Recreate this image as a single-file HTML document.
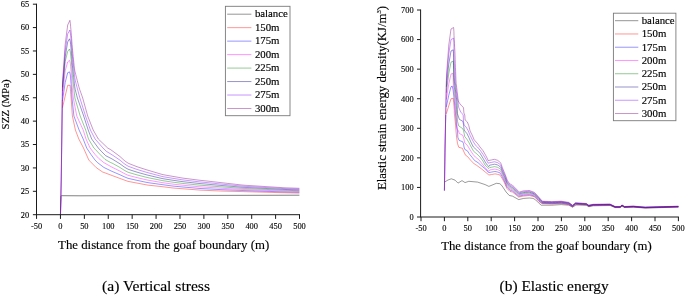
<!DOCTYPE html>
<html><head><meta charset="utf-8"><title>Figure</title>
<style>
html,body{margin:0;padding:0;background:#fff;}
body{width:685px;height:295px;position:relative;overflow:hidden;font-family:"Liberation Serif",serif;}
</style></head><body>
<svg width="685" height="295" viewBox="0 0 685 295" style="position:absolute;left:0;top:0;will-change:transform">
<g fill="none" stroke-width="0.42" stroke-linejoin="round">
<path d="M60.45,214.70 L61.00,196.20 L61.40,195.70 L80.00,195.80 L120.00,195.65 L200.00,195.45 L299.40,195.20" stroke="#000000" stroke-width="0.5"/>
<path d="M62.50,107.60 L65.20,96.00 L67.70,85.30 L70.10,85.30 L70.35,88.30 L70.55,91.30 L70.79,94.30 L71.10,98.00 L72.40,116.00 L75.40,130.00 L78.80,139.00 L83.50,148.00 L88.80,160.00 L90.00,161.30 L96.30,167.70 L102.60,172.00 L105.10,172.90 L112.00,175.50 L114.00,176.24 L116.00,176.98 L118.00,177.72 L120.00,178.46 L122.00,179.19 L124.00,179.93 L126.00,180.67 L128.00,181.36 L130.00,181.74 L132.00,182.12 L134.00,182.50 L136.00,182.88 L138.00,183.26 L140.00,183.64 L142.00,184.02 L144.00,184.40 L146.00,184.78 L148.00,185.13 L150.00,185.35 L152.00,185.56 L154.00,185.78 L156.00,185.99 L158.00,186.21 L160.00,186.42 L162.00,186.64 L164.00,186.88 L166.00,187.13 L168.00,187.39 L170.00,187.64 L172.00,187.90 L174.00,188.09 L176.00,188.25 L178.00,188.40 L180.00,188.56 L182.00,188.71 L184.00,188.86 L186.00,189.02 L188.00,189.17 L190.00,189.33 L192.00,189.48 L194.00,189.64 L196.00,189.79 L198.00,189.95 L200.00,190.10 L202.00,190.19 L204.00,190.28 L206.00,190.36 L208.00,190.45 L210.00,190.54 L212.00,190.63 L214.00,190.72 L216.00,190.81 L218.00,190.89 L220.00,190.98 L222.00,191.04 L224.00,191.10 L226.00,191.15 L228.00,191.21 L230.00,191.26 L232.00,191.31 L234.00,191.37 L236.00,191.42 L238.00,191.48 L240.00,191.53 L242.00,191.58 L244.00,191.64 L246.00,191.70 L248.00,191.75 L250.00,191.81 L252.00,191.87 L254.00,191.92 L256.00,191.98 L258.00,192.04 L260.00,192.09 L262.00,192.15 L264.00,192.21 L266.00,192.26 L268.00,192.32 L270.00,192.38 L272.00,192.43 L274.00,192.49 L276.00,192.55 L278.00,192.60 L280.00,192.66 L282.00,192.72 L284.00,192.77 L286.00,192.82 L288.00,192.86 L290.00,192.90 L292.00,192.94 L294.00,192.99 L296.00,193.03 L298.00,193.07 L299.40,193.10" stroke="#ff0000"/>
<path d="M62.50,100.77 L65.20,82.40 L67.70,72.68 L69.60,71.90 L70.31,74.90 L70.57,77.90 L70.83,80.90 L71.09,83.90 L71.31,86.90 L71.50,89.90 L71.68,92.90 L71.87,95.90 L72.00,98.00 L73.90,116.00 L79.10,130.00 L83.20,139.00 L86.70,148.00 L91.00,154.50 L95.00,160.00 L97.50,162.60 L104.00,167.50 L112.00,171.36 L114.00,172.21 L116.00,173.08 L118.00,173.94 L120.00,174.80 L122.00,175.72 L124.00,176.65 L126.00,177.52 L128.00,178.31 L130.00,178.78 L132.00,179.22 L134.00,179.67 L136.00,180.12 L138.00,180.55 L140.00,180.98 L142.00,181.40 L144.00,181.83 L146.00,182.25 L148.00,182.65 L150.00,182.93 L152.00,183.21 L154.00,183.48 L156.00,183.76 L158.00,184.04 L160.00,184.32 L162.00,184.60 L164.00,184.87 L166.00,185.14 L168.00,185.41 L170.00,185.68 L172.00,185.95 L174.00,186.17 L176.00,186.36 L178.00,186.55 L180.00,186.73 L182.00,186.92 L184.00,187.10 L186.00,187.27 L188.00,187.44 L190.00,187.61 L192.00,187.78 L194.00,187.95 L196.00,188.12 L198.00,188.30 L200.00,188.47 L202.00,188.57 L204.00,188.68 L206.00,188.79 L208.00,188.90 L210.00,189.01 L212.00,189.12 L214.00,189.24 L216.00,189.35 L218.00,189.46 L220.00,189.57 L222.00,189.66 L224.00,189.74 L226.00,189.83 L228.00,189.91 L230.00,189.99 L232.00,190.08 L234.00,190.16 L236.00,190.24 L238.00,190.33 L240.00,190.41 L242.00,190.49 L244.00,190.56 L246.00,190.63 L248.00,190.70 L250.00,190.77 L252.00,190.84 L254.00,190.91 L256.00,190.97 L258.00,191.04 L260.00,191.11 L262.00,191.18 L264.00,191.25 L266.00,191.32 L268.00,191.39 L270.00,191.45 L272.00,191.52 L274.00,191.59 L276.00,191.66 L278.00,191.73 L280.00,191.80 L282.00,191.86 L284.00,191.93 L286.00,191.99 L288.00,192.04 L290.00,192.08 L292.00,192.13 L294.00,192.17 L296.00,192.22 L298.00,192.27 L299.40,192.30" stroke="#0000ff"/>
<path d="M62.50,95.73 L65.20,70.80 L67.70,61.87 L69.50,60.30 L70.33,63.30 L70.60,66.30 L70.88,69.30 L71.16,72.30 L71.40,75.30 L71.61,78.30 L71.81,81.30 L72.01,84.30 L72.23,87.30 L72.53,90.30 L72.83,93.30 L73.13,96.30 L73.30,98.00 L76.75,116.00 L83.20,130.00 L86.00,139.00 L90.10,148.00 L95.00,154.40 L98.80,158.50 L103.80,162.60 L112.00,167.21 L114.00,168.18 L116.00,169.17 L118.00,170.16 L120.00,171.15 L122.00,172.26 L124.00,173.37 L126.00,174.36 L128.00,175.27 L130.00,175.81 L132.00,176.33 L134.00,176.84 L136.00,177.36 L138.00,177.85 L140.00,178.32 L142.00,178.79 L144.00,179.26 L146.00,179.73 L148.00,180.16 L150.00,180.51 L152.00,180.85 L154.00,181.19 L156.00,181.54 L158.00,181.88 L160.00,182.22 L162.00,182.56 L164.00,182.87 L166.00,183.15 L168.00,183.44 L170.00,183.72 L172.00,184.01 L174.00,184.26 L176.00,184.48 L178.00,184.69 L180.00,184.91 L182.00,185.13 L184.00,185.33 L186.00,185.52 L188.00,185.71 L190.00,185.89 L192.00,186.08 L194.00,186.27 L196.00,186.46 L198.00,186.65 L200.00,186.83 L202.00,186.96 L204.00,187.08 L206.00,187.21 L208.00,187.35 L210.00,187.48 L212.00,187.62 L214.00,187.75 L216.00,187.89 L218.00,188.02 L220.00,188.16 L222.00,188.28 L224.00,188.39 L226.00,188.50 L228.00,188.61 L230.00,188.73 L232.00,188.84 L234.00,188.95 L236.00,189.06 L238.00,189.18 L240.00,189.29 L242.00,189.40 L244.00,189.49 L246.00,189.57 L248.00,189.65 L250.00,189.73 L252.00,189.81 L254.00,189.89 L256.00,189.97 L258.00,190.05 L260.00,190.13 L262.00,190.21 L264.00,190.29 L266.00,190.37 L268.00,190.45 L270.00,190.53 L272.00,190.61 L274.00,190.69 L276.00,190.77 L278.00,190.85 L280.00,190.93 L282.00,191.01 L284.00,191.09 L286.00,191.16 L288.00,191.21 L290.00,191.26 L292.00,191.31 L294.00,191.36 L296.00,191.41 L298.00,191.46 L299.40,191.50" stroke="#ff00ff"/>
<path d="M62.50,91.00 L65.20,61.50 L67.70,51.35 L69.50,49.00 L70.35,52.00 L70.66,55.00 L70.96,58.00 L71.27,61.00 L71.54,64.00 L71.77,67.00 L72.00,70.00 L72.23,73.00 L72.47,76.00 L72.80,79.00 L73.13,82.00 L73.46,85.00 L73.79,88.00 L74.12,91.00 L74.45,94.00 L74.90,98.00 L80.20,116.00 L85.70,130.00 L88.50,139.00 L93.90,148.00 L95.00,149.10 L100.00,154.40 L105.00,159.40 L110.70,162.60 L112.00,163.07 L114.00,164.16 L116.00,165.27 L118.00,166.39 L120.00,167.50 L122.00,168.79 L124.00,170.09 L126.00,171.21 L128.00,172.23 L130.00,172.85 L132.00,173.43 L134.00,174.02 L136.00,174.60 L138.00,175.15 L140.00,175.66 L142.00,176.18 L144.00,176.69 L146.00,177.20 L148.00,177.68 L150.00,178.09 L152.00,178.49 L154.00,178.90 L156.00,179.31 L158.00,179.71 L160.00,180.12 L162.00,180.53 L164.00,180.86 L166.00,181.16 L168.00,181.46 L170.00,181.77 L172.00,182.07 L174.00,182.34 L176.00,182.59 L178.00,182.84 L180.00,183.09 L182.00,183.34 L184.00,183.57 L186.00,183.77 L188.00,183.97 L190.00,184.18 L192.00,184.38 L194.00,184.59 L196.00,184.79 L198.00,185.00 L200.00,185.20 L202.00,185.34 L204.00,185.49 L206.00,185.64 L208.00,185.80 L210.00,185.96 L212.00,186.11 L214.00,186.27 L216.00,186.43 L218.00,186.59 L220.00,186.75 L222.00,186.89 L224.00,187.04 L226.00,187.18 L228.00,187.32 L230.00,187.46 L232.00,187.60 L234.00,187.74 L236.00,187.88 L238.00,188.02 L240.00,188.17 L242.00,188.31 L244.00,188.41 L246.00,188.51 L248.00,188.60 L250.00,188.69 L252.00,188.78 L254.00,188.87 L256.00,188.97 L258.00,189.06 L260.00,189.15 L262.00,189.24 L264.00,189.33 L266.00,189.43 L268.00,189.52 L270.00,189.61 L272.00,189.70 L274.00,189.79 L276.00,189.89 L278.00,189.98 L280.00,190.07 L282.00,190.16 L284.00,190.25 L286.00,190.33 L288.00,190.38 L290.00,190.44 L292.00,190.49 L294.00,190.55 L296.00,190.60 L298.00,190.66 L299.40,190.70" stroke="#008000"/>
<path d="M62.50,87.37 L65.20,56.80 L67.70,41.93 L69.50,38.80 L70.35,41.80 L70.65,44.80 L70.96,47.80 L71.26,50.80 L71.53,53.80 L71.75,56.80 L71.98,59.80 L72.21,62.80 L72.45,65.80 L72.78,68.80 L73.10,71.80 L73.43,74.80 L73.75,77.80 L74.09,80.80 L74.42,83.80 L74.75,86.80 L75.28,89.80 L76.05,92.80 L76.83,95.80 L77.40,98.00 L83.70,116.00 L88.20,130.00 L91.70,139.00 L98.30,148.00 L101.30,151.30 L105.70,155.70 L112.00,158.92 L114.00,160.13 L116.00,161.37 L118.00,162.61 L120.00,163.85 L122.00,165.32 L124.00,166.80 L126.00,168.05 L128.00,169.18 L130.00,169.89 L132.00,170.54 L134.00,171.19 L136.00,171.84 L138.00,172.45 L140.00,173.01 L142.00,173.56 L144.00,174.12 L146.00,174.68 L148.00,175.20 L150.00,175.67 L152.00,176.14 L154.00,176.61 L156.00,177.08 L158.00,177.55 L160.00,178.02 L162.00,178.49 L164.00,178.86 L166.00,179.17 L168.00,179.49 L170.00,179.81 L172.00,180.12 L174.00,180.42 L176.00,180.70 L178.00,180.99 L180.00,181.27 L182.00,181.56 L184.00,181.80 L186.00,182.02 L188.00,182.24 L190.00,182.46 L192.00,182.68 L194.00,182.90 L196.00,183.12 L198.00,183.35 L200.00,183.57 L202.00,183.73 L204.00,183.89 L206.00,184.06 L208.00,184.25 L210.00,184.43 L212.00,184.61 L214.00,184.79 L216.00,184.97 L218.00,185.16 L220.00,185.34 L222.00,185.51 L224.00,185.68 L226.00,185.85 L228.00,186.02 L230.00,186.19 L232.00,186.36 L234.00,186.53 L236.00,186.70 L238.00,186.87 L240.00,187.05 L242.00,187.22 L244.00,187.34 L246.00,187.44 L248.00,187.55 L250.00,187.65 L252.00,187.75 L254.00,187.86 L256.00,187.96 L258.00,188.07 L260.00,188.17 L262.00,188.27 L264.00,188.38 L266.00,188.48 L268.00,188.58 L270.00,188.69 L272.00,188.79 L274.00,188.90 L276.00,189.00 L278.00,189.10 L280.00,189.21 L282.00,189.31 L284.00,189.41 L286.00,189.50 L288.00,189.56 L290.00,189.62 L292.00,189.68 L294.00,189.74 L296.00,189.80 L298.00,189.86 L299.40,189.90" stroke="#000080"/>
<path d="M60.45,214.70 L61.20,180.00 L61.90,130.00 L62.50,85.13 L65.20,51.00 L67.70,33.92 L69.90,30.00 L70.36,33.00 L70.67,36.00 L70.98,39.00 L71.28,42.00 L71.56,45.00 L71.79,48.00 L72.03,51.00 L72.26,54.00 L72.51,57.00 L72.84,60.00 L73.17,63.00 L73.50,66.00 L73.84,69.00 L74.17,72.00 L74.51,75.00 L74.85,78.00 L75.38,81.00 L76.16,84.00 L76.95,87.00 L77.73,90.00 L78.53,93.00 L79.33,96.00 L79.90,98.00 L85.50,116.00 L90.40,130.00 L95.10,139.00 L103.00,148.00 L106.30,151.30 L112.00,154.78 L114.00,156.10 L116.00,157.47 L118.00,158.84 L120.00,160.20 L122.00,161.85 L124.00,163.52 L126.00,164.90 L128.00,166.14 L130.00,166.93 L132.00,167.64 L134.00,168.36 L136.00,169.08 L138.00,169.74 L140.00,170.35 L142.00,170.95 L144.00,171.55 L146.00,172.15 L148.00,172.71 L150.00,173.25 L152.00,173.78 L154.00,174.32 L156.00,174.85 L158.00,175.39 L160.00,175.92 L162.00,176.46 L164.00,176.85 L166.00,177.18 L168.00,177.51 L170.00,177.85 L172.00,178.18 L174.00,178.50 L176.00,178.82 L178.00,179.13 L180.00,179.45 L182.00,179.77 L184.00,180.03 L186.00,180.27 L188.00,180.51 L190.00,180.74 L192.00,180.98 L194.00,181.22 L196.00,181.46 L198.00,181.70 L200.00,181.93 L202.00,182.11 L204.00,182.30 L206.00,182.49 L208.00,182.69 L210.00,182.90 L212.00,183.11 L214.00,183.31 L216.00,183.52 L218.00,183.72 L220.00,183.93 L222.00,184.13 L224.00,184.33 L226.00,184.53 L228.00,184.73 L230.00,184.93 L232.00,185.13 L234.00,185.33 L236.00,185.52 L238.00,185.72 L240.00,185.92 L242.00,186.12 L244.00,186.26 L246.00,186.38 L248.00,186.50 L250.00,186.61 L252.00,186.73 L254.00,186.84 L256.00,186.96 L258.00,187.07 L260.00,187.19 L262.00,187.30 L264.00,187.42 L266.00,187.54 L268.00,187.65 L270.00,187.77 L272.00,187.88 L274.00,188.00 L276.00,188.11 L278.00,188.23 L280.00,188.34 L282.00,188.46 L284.00,188.58 L286.00,188.67 L288.00,188.73 L290.00,188.79 L292.00,188.86 L294.00,188.92 L296.00,188.99 L298.00,189.05 L299.40,189.10" stroke="#8000ff"/>
<path d="M60.45,214.70 L61.20,180.00 L61.90,130.00 L62.50,82.00 L65.20,44.30 L67.70,25.00 L69.90,20.30 L70.33,23.30 L70.61,26.30 L70.89,29.30 L71.18,32.30 L71.42,35.30 L71.63,38.30 L71.84,41.30 L72.05,44.30 L72.27,47.30 L72.57,50.30 L72.88,53.30 L73.18,56.30 L73.48,59.30 L73.79,62.30 L74.11,65.30 L74.42,68.30 L74.92,71.30 L75.68,74.30 L76.44,77.30 L77.19,80.30 L77.96,83.30 L78.74,86.30 L79.64,89.30 L80.69,92.30 L81.75,95.30 L82.70,98.00 L87.70,116.00 L93.20,130.00 L98.30,139.00 L107.70,148.00 L110.70,149.70 L112.00,150.63 L114.00,152.07 L116.00,153.57 L118.00,155.06 L120.00,156.55 L122.00,158.38 L124.00,160.24 L126.00,161.75 L128.00,163.10 L130.00,163.97 L132.00,164.75 L134.00,165.53 L136.00,166.32 L138.00,167.04 L140.00,167.69 L142.00,168.34 L144.00,168.98 L146.00,169.63 L148.00,170.23 L150.00,170.83 L152.00,171.43 L154.00,172.03 L156.00,172.62 L158.00,173.22 L160.00,173.82 L162.00,174.42 L164.00,174.84 L166.00,175.19 L168.00,175.54 L170.00,175.89 L172.00,176.24 L174.00,176.59 L176.00,176.93 L178.00,177.28 L180.00,177.63 L182.00,177.98 L184.00,178.27 L186.00,178.52 L188.00,178.77 L190.00,179.03 L192.00,179.28 L194.00,179.54 L196.00,179.79 L198.00,180.05 L200.00,180.30 L202.00,180.50 L204.00,180.70 L206.00,180.91 L208.00,181.14 L210.00,181.37 L212.00,181.60 L214.00,181.83 L216.00,182.06 L218.00,182.29 L220.00,182.52 L222.00,182.74 L224.00,182.97 L226.00,183.20 L228.00,183.43 L230.00,183.66 L232.00,183.89 L234.00,184.12 L236.00,184.35 L238.00,184.57 L240.00,184.80 L242.00,185.03 L244.00,185.19 L246.00,185.32 L248.00,185.44 L250.00,185.57 L252.00,185.70 L254.00,185.83 L256.00,185.95 L258.00,186.08 L260.00,186.21 L262.00,186.34 L264.00,186.46 L266.00,186.59 L268.00,186.72 L270.00,186.84 L272.00,186.97 L274.00,187.10 L276.00,187.23 L278.00,187.35 L280.00,187.48 L282.00,187.61 L284.00,187.74 L286.00,187.83 L288.00,187.90 L290.00,187.97 L292.00,188.04 L294.00,188.11 L296.00,188.18 L298.00,188.25 L299.40,188.30" stroke="#800080"/>
<path d="M444.50,182.10 L448.00,180.00 L451.30,178.80 L455.00,180.10 L458.00,183.10 L462.00,180.60 L465.00,182.60 L468.80,181.30 L477.60,182.10 L485.10,184.60 L488.90,186.40 L496.40,183.30 L499.80,183.70 L501.60,185.30 L503.00,187.30 L506.10,192.00 L509.30,195.50 L512.40,196.10 L518.70,199.60 L523.70,198.40 L529.40,198.00 L533.10,198.40 L535.50,199.80 L538.50,202.80 L541.20,205.20 L551.80,205.20 L561.20,204.60 L568.80,205.20 L572.50,207.20 L576.00,205.00 L586.30,205.30 L588.80,206.70 L593.20,205.80 L610.10,205.50 L615.10,207.60 L620.20,207.60 L622.00,206.10 L624.50,207.50 L633.30,207.20 L645.20,208.00 L655.00,207.80 L678.40,207.10" stroke="#000000" stroke-width="0.4"/>
<path d="M446.30,113.80 L448.70,106.00 L451.00,98.80 L453.20,98.20 L453.62,102.20 L454.03,106.20 L454.30,110.20 L454.30,113.00 L455.60,125.00 L456.00,131.00 L456.60,137.30 L457.50,143.60 L458.80,147.30 L462.40,148.30 L464.00,152.00 L465.50,155.20 L467.40,156.40 L470.60,160.20 L474.30,164.00 L476.20,165.00 L481.40,168.80 L485.00,171.80 L485.80,172.46 L488.10,174.34 L488.80,174.92 L488.90,175.00 L491.30,174.57 L491.80,174.48 L494.40,174.01 L494.80,173.94 L495.00,173.90 L496.00,174.00 L497.60,174.38 L497.80,174.43 L499.80,174.90 L500.70,176.27 L500.80,176.42 L502.30,178.70 L503.80,181.55 L504.30,182.50 L505.00,184.12 L506.80,188.30 L507.40,188.90 L509.70,191.20 L509.80,191.30 L509.90,191.40 L512.40,192.00 L512.80,192.32 L515.80,194.75 L518.70,197.10 L518.80,197.08 L519.30,196.96 L521.80,196.40 L523.10,196.10 L523.70,196.04 L524.80,195.94 L527.80,195.65 L529.40,195.50 L530.80,195.85 L533.80,196.60 L534.40,196.75 L536.80,199.20 L536.90,199.30 L538.20,200.72 L539.00,201.60 L539.80,202.13 L540.70,202.73 L542.00,203.60 L542.40,203.62 L542.80,203.63 L545.80,203.76 L548.80,203.88 L551.80,204.00 L554.80,203.84 L557.80,203.68 L560.80,203.52 L561.20,203.50 L563.80,203.88 L566.80,204.31 L568.80,204.60 L569.80,205.19 L572.50,206.80 L572.80,206.56 L575.60,204.30 L575.80,204.31 L578.80,204.45 L581.80,204.59 L584.80,204.73 L586.30,204.80 L587.80,205.70 L588.80,206.30 L590.80,205.89 L593.20,205.40 L593.80,205.39 L596.80,205.34 L599.80,205.28 L602.80,205.23 L605.80,205.18 L608.80,205.12 L610.10,205.10 L611.80,205.88 L614.80,207.26 L615.10,207.40 L617.80,207.40 L620.20,207.40 L620.80,206.87 L622.00,205.80 L623.80,206.88 L624.50,207.30 L626.80,207.22 L629.80,207.12 L632.80,207.02 L633.30,207.00 L635.80,207.19 L638.80,207.42 L641.80,207.64 L644.80,207.87 L645.20,207.90 L647.80,207.82 L650.80,207.73 L653.80,207.64 L655.00,207.60 L656.80,207.55 L659.80,207.48 L662.80,207.40 L665.80,207.32 L668.80,207.25 L671.80,207.17 L674.80,207.09 L677.80,207.02 L678.40,207.00" stroke="#ff0000"/>
<path d="M446.33,106.92 L448.72,95.42 L451.00,86.75 L452.20,86.00 L453.12,90.00 L453.55,94.00 L454.00,98.00 L454.45,102.00 L454.81,106.00 L455.16,110.00 L455.50,114.00 L455.85,118.00 L456.20,122.00 L456.54,126.00 L457.50,131.00 L457.85,137.30 L459.10,140.40 L462.60,141.70 L463.50,143.60 L464.00,147.00 L464.90,149.50 L467.40,150.80 L469.30,153.90 L472.40,157.70 L474.60,160.50 L478.10,162.70 L480.60,165.00 L484.50,168.30 L487.00,170.50 L487.80,171.85 L488.10,172.05 L488.90,172.58 L490.80,172.23 L491.30,172.14 L493.80,171.67 L494.40,171.56 L495.00,171.50 L496.00,171.63 L496.80,171.83 L497.60,172.03 L499.80,172.76 L500.70,174.02 L502.30,176.83 L502.80,177.83 L504.30,180.80 L505.00,182.44 L505.80,184.34 L506.80,186.73 L507.40,187.50 L508.80,189.00 L509.70,189.97 L509.90,190.15 L511.80,190.69 L512.40,190.87 L514.80,192.88 L517.80,195.40 L518.70,196.15 L519.30,196.14 L520.80,195.78 L523.10,195.24 L523.70,195.17 L523.80,195.16 L526.80,194.90 L529.40,194.67 L529.80,194.78 L532.80,195.59 L534.40,196.03 L535.80,197.46 L536.90,198.59 L538.20,200.00 L538.80,200.67 L539.00,200.89 L540.70,202.16 L541.80,202.98 L542.00,203.13 L542.40,203.21 L544.80,203.31 L547.80,203.44 L550.80,203.56 L551.80,203.60 L553.80,203.50 L556.80,203.34 L559.80,203.19 L561.20,203.12 L562.80,203.35 L565.80,203.79 L568.80,204.23 L571.80,206.10 L572.50,206.53 L574.80,204.69 L575.60,204.05 L577.80,204.16 L580.80,204.31 L583.80,204.46 L586.30,204.58 L586.80,204.89 L588.80,206.12 L589.80,205.91 L592.80,205.30 L593.20,205.22 L595.80,205.17 L598.80,205.12 L601.80,205.07 L604.80,205.02 L607.80,204.97 L610.10,204.93 L610.80,205.26 L613.80,206.65 L615.10,207.25 L616.80,207.25 L619.80,207.25 L620.20,207.25 L622.00,205.65 L622.80,206.14 L624.50,207.17 L625.80,207.12 L628.80,207.01 L631.80,206.90 L633.30,206.85 L634.80,206.97 L637.80,207.20 L640.80,207.43 L643.80,207.66 L645.20,207.77 L646.80,207.72 L649.80,207.63 L652.80,207.53 L655.00,207.47 L655.80,207.45 L658.80,207.37 L661.80,207.29 L664.80,207.22 L667.80,207.14 L670.80,207.06 L673.80,206.98 L676.80,206.91 L678.40,206.87" stroke="#0000ff"/>
<path d="M446.37,99.43 L448.73,84.23 L451.00,74.10 L452.90,73.20 L453.20,77.20 L453.20,81.20 L453.36,85.20 L453.80,89.20 L454.25,93.20 L454.71,97.20 L455.21,101.20 L455.55,105.20 L455.83,109.20 L456.11,113.20 L456.38,117.20 L456.66,121.20 L456.94,125.20 L457.22,129.20 L458.50,131.00 L459.40,133.50 L462.90,135.40 L463.80,138.50 L464.75,142.90 L466.90,144.80 L468.40,147.00 L470.20,150.10 L473.10,154.50 L475.30,157.00 L478.70,159.60 L481.20,162.70 L483.10,165.00 L486.00,168.80 L488.80,171.30 L489.60,170.02 L491.30,169.71 L492.60,169.46 L494.40,169.11 L495.00,169.10 L495.60,169.20 L496.00,169.27 L497.60,169.69 L498.60,170.11 L499.80,170.62 L500.70,171.78 L501.60,173.57 L502.30,174.97 L504.30,179.10 L504.60,179.81 L505.00,180.75 L506.80,185.16 L507.40,186.10 L507.60,186.33 L509.70,188.73 L509.90,188.90 L510.60,189.13 L512.40,189.73 L513.60,190.78 L516.60,193.38 L518.70,195.20 L519.30,195.31 L519.60,195.24 L522.60,194.51 L523.10,194.39 L523.70,194.30 L525.60,194.14 L528.60,193.90 L529.40,193.83 L531.60,194.48 L534.40,195.30 L534.60,195.51 L536.90,197.88 L537.60,198.63 L538.20,199.28 L539.00,200.18 L540.60,201.51 L540.70,201.59 L542.00,202.65 L542.40,202.81 L543.60,202.86 L546.60,202.98 L549.60,203.11 L551.80,203.20 L552.60,203.16 L555.60,203.01 L558.60,202.86 L561.20,202.73 L561.60,202.79 L564.60,203.24 L567.60,203.69 L568.80,203.87 L570.60,205.03 L572.50,206.27 L573.60,205.39 L575.60,203.80 L576.60,203.85 L579.60,204.01 L582.60,204.17 L585.60,204.33 L586.30,204.37 L588.60,205.81 L588.80,205.93 L591.60,205.36 L593.20,205.03 L594.60,205.01 L597.60,204.96 L600.60,204.92 L603.60,204.87 L606.60,204.82 L609.60,204.77 L610.10,204.77 L612.60,205.93 L615.10,207.10 L615.60,207.10 L618.60,207.10 L620.20,207.10 L621.60,205.86 L622.00,205.50 L624.50,207.03 L624.60,207.03 L627.60,206.92 L630.60,206.80 L633.30,206.70 L633.60,206.72 L636.60,206.96 L639.60,207.19 L642.60,207.43 L645.20,207.63 L645.60,207.62 L648.60,207.53 L651.60,207.44 L654.60,207.35 L655.00,207.33 L657.60,207.27 L660.60,207.19 L663.60,207.11 L666.60,207.04 L669.60,206.96 L672.60,206.88 L675.60,206.81 L678.40,206.73" stroke="#ff00ff"/>
<path d="M446.40,92.65 L448.75,73.75 L451.00,62.15 L453.20,61.10 L453.50,65.10 L453.50,69.10 L453.50,73.10 L453.50,77.10 L453.69,81.10 L454.11,85.10 L454.56,89.10 L455.02,93.10 L455.51,97.10 L456.04,101.10 L456.36,105.10 L456.57,109.10 L456.77,113.10 L457.20,115.00 L457.50,121.30 L458.80,126.00 L462.60,128.50 L463.50,130.50 L464.75,136.60 L466.90,139.20 L468.80,142.30 L470.70,146.10 L471.20,147.00 L473.70,151.40 L476.80,153.90 L480.00,157.00 L483.10,161.40 L485.00,165.00 L488.80,168.50 L489.60,167.60 L491.30,167.28 L492.60,167.02 L494.40,166.65 L495.00,166.69 L495.60,166.82 L496.00,166.90 L497.60,167.34 L498.60,167.86 L499.80,168.49 L500.70,169.53 L501.60,171.54 L502.30,173.10 L504.30,177.41 L504.60,178.12 L505.00,179.06 L506.80,183.59 L507.40,184.70 L507.60,184.94 L509.70,187.50 L509.90,187.65 L510.60,187.92 L512.40,188.60 L513.60,189.68 L516.60,192.37 L518.70,194.25 L519.30,194.48 L519.60,194.41 L522.60,193.66 L523.10,193.53 L523.70,193.42 L525.60,193.28 L528.60,193.06 L529.40,193.00 L531.60,193.69 L534.40,194.57 L534.60,194.78 L536.90,197.17 L537.60,197.92 L538.20,198.56 L539.00,199.46 L540.60,200.93 L540.70,201.02 L542.00,202.18 L542.40,202.41 L543.60,202.46 L546.60,202.58 L549.60,202.71 L551.80,202.80 L552.60,202.76 L555.60,202.62 L558.60,202.47 L561.20,202.35 L561.60,202.41 L564.60,202.86 L567.60,203.32 L568.80,203.50 L570.60,204.72 L572.50,206.00 L573.60,205.13 L575.60,203.55 L576.60,203.61 L579.60,203.77 L582.60,203.94 L585.60,204.11 L586.30,204.15 L588.60,205.62 L588.80,205.75 L591.60,205.18 L593.20,204.85 L594.60,204.83 L597.60,204.78 L600.60,204.74 L603.60,204.70 L606.60,204.65 L609.60,204.61 L610.10,204.60 L612.60,205.78 L615.10,206.95 L615.60,206.95 L618.60,206.95 L620.20,206.95 L621.60,205.71 L622.00,205.35 L624.50,206.90 L624.60,206.90 L627.60,206.78 L630.60,206.66 L633.30,206.55 L633.60,206.57 L636.60,206.81 L639.60,207.05 L642.60,207.29 L645.20,207.50 L645.60,207.49 L648.60,207.40 L651.60,207.30 L654.60,207.21 L655.00,207.20 L657.60,207.13 L660.60,207.06 L663.60,206.98 L666.60,206.90 L669.60,206.83 L672.60,206.75 L675.60,206.67 L678.40,206.60" stroke="#008000"/>
<path d="M446.43,86.67 L448.77,64.07 L451.00,51.00 L453.20,49.80 L453.50,53.80 L453.50,57.80 L453.50,61.80 L453.56,65.80 L453.79,69.80 L454.02,73.80 L454.26,77.80 L454.49,81.80 L454.95,85.80 L455.42,89.80 L455.88,93.80 L456.42,97.80 L456.98,101.80 L457.20,105.80 L457.34,109.80 L457.47,113.80 L457.85,115.00 L459.40,119.40 L462.90,121.30 L463.50,124.40 L464.10,129.40 L464.75,131.00 L466.90,133.50 L468.80,137.30 L470.70,141.70 L472.90,146.10 L473.40,147.00 L476.80,150.10 L480.00,153.30 L483.10,158.30 L485.60,162.70 L487.20,165.00 L488.80,166.60 L489.60,165.17 L491.30,164.86 L492.60,164.58 L494.40,164.20 L495.00,164.29 L495.60,164.44 L496.00,164.53 L497.60,164.99 L498.60,165.61 L499.80,166.35 L500.70,167.29 L501.60,169.51 L502.30,171.23 L504.30,175.71 L504.60,176.42 L505.00,177.37 L506.80,182.02 L507.40,183.30 L507.60,183.56 L509.70,186.27 L509.90,186.40 L510.60,186.70 L512.40,187.47 L513.60,188.58 L516.60,191.36 L518.70,193.31 L519.30,193.65 L519.60,193.58 L522.60,192.80 L523.10,192.68 L523.70,192.55 L525.60,192.42 L528.60,192.22 L529.40,192.17 L531.60,192.91 L534.40,193.85 L534.60,194.06 L536.90,196.45 L537.60,197.20 L538.20,197.84 L539.00,198.75 L540.60,200.34 L540.70,200.44 L542.00,201.70 L542.40,202.01 L543.60,202.06 L546.60,202.18 L549.60,202.31 L551.80,202.40 L552.60,202.36 L555.60,202.22 L558.60,202.09 L561.20,201.97 L561.60,202.03 L564.60,202.49 L567.60,202.95 L568.80,203.13 L570.60,204.40 L572.50,205.73 L573.60,204.87 L575.60,203.30 L576.60,203.36 L579.60,203.54 L582.60,203.71 L585.60,203.89 L586.30,203.93 L588.60,205.44 L588.80,205.57 L591.60,204.99 L593.20,204.67 L594.60,204.65 L597.60,204.61 L600.60,204.56 L603.60,204.52 L606.60,204.48 L609.60,204.44 L610.10,204.43 L612.60,205.62 L615.10,206.80 L615.60,206.80 L618.60,206.80 L620.20,206.80 L621.60,205.56 L622.00,205.20 L624.50,206.77 L624.60,206.76 L627.60,206.64 L630.60,206.51 L633.30,206.40 L633.60,206.42 L636.60,206.67 L639.60,206.91 L642.60,207.16 L645.20,207.37 L645.60,207.35 L648.60,207.26 L651.60,207.17 L654.60,207.08 L655.00,207.07 L657.60,207.00 L660.60,206.92 L663.60,206.85 L666.60,206.77 L669.60,206.69 L672.60,206.62 L675.60,206.54 L678.40,206.47" stroke="#000080"/>
<path d="M444.40,190.60 L445.00,150.00 L445.60,120.83 L446.47,80.38 L448.78,54.08 L451.00,39.55 L453.60,38.20 L453.90,42.20 L453.90,46.20 L453.90,50.20 L453.94,54.20 L454.13,58.20 L454.32,62.20 L454.51,66.20 L454.69,70.20 L454.88,74.20 L455.07,78.20 L455.28,82.20 L455.76,86.20 L456.24,90.20 L456.72,94.20 L457.29,98.20 L457.90,100.00 L458.50,106.90 L460.70,112.00 L462.30,113.80 L463.20,115.00 L463.50,121.30 L464.10,125.00 L466.00,126.90 L468.20,130.70 L470.10,135.40 L472.60,140.40 L475.10,144.80 L477.50,147.00 L480.60,150.80 L483.10,154.50 L486.20,159.60 L488.10,163.20 L488.90,162.88 L491.30,162.43 L491.90,162.30 L494.40,161.75 L494.90,161.87 L495.00,161.89 L496.00,162.17 L497.60,162.65 L497.90,162.86 L499.80,164.21 L500.70,165.04 L500.90,165.58 L502.30,169.37 L503.90,173.08 L504.30,174.01 L505.00,175.69 L506.80,180.45 L506.90,180.69 L507.40,181.90 L509.70,185.03 L509.90,185.15 L509.90,185.15 L512.40,186.33 L512.90,186.81 L515.90,189.68 L518.70,192.36 L518.90,192.51 L519.30,192.83 L521.90,192.14 L523.10,191.82 L523.70,191.67 L524.90,191.60 L527.90,191.42 L529.40,191.33 L530.90,191.87 L533.90,192.95 L534.40,193.12 L536.90,195.74 L536.90,195.74 L538.20,197.12 L539.00,198.04 L539.90,199.01 L540.70,199.87 L542.00,201.23 L542.40,201.60 L542.90,201.62 L545.90,201.75 L548.90,201.88 L551.80,202.00 L551.90,202.00 L554.90,201.86 L557.90,201.73 L560.90,201.60 L561.20,201.58 L563.90,202.00 L566.90,202.47 L568.80,202.77 L569.90,203.57 L572.50,205.47 L572.90,205.15 L575.60,203.05 L575.90,203.07 L578.90,203.26 L581.90,203.44 L584.90,203.63 L586.30,203.72 L587.90,204.78 L588.80,205.38 L590.90,204.95 L593.20,204.48 L593.90,204.47 L596.90,204.44 L599.90,204.40 L602.90,204.36 L605.90,204.32 L608.90,204.28 L610.10,204.27 L611.90,205.12 L614.90,206.55 L615.10,206.65 L617.90,206.65 L620.20,206.65 L620.90,206.03 L622.00,205.05 L623.90,206.25 L624.50,206.63 L626.90,206.53 L629.90,206.40 L632.90,206.27 L633.30,206.25 L635.90,206.46 L638.90,206.71 L641.90,206.96 L644.90,207.21 L645.20,207.23 L647.90,207.15 L650.90,207.06 L653.90,206.97 L655.00,206.93 L656.90,206.88 L659.90,206.81 L662.90,206.73 L665.90,206.65 L668.90,206.58 L671.90,206.50 L674.90,206.42 L677.90,206.35 L678.40,206.33" stroke="#8000ff"/>
<path d="M444.40,190.60 L445.00,150.00 L445.60,120.00 L446.50,75.00 L448.80,45.00 L451.00,29.00 L453.60,27.50 L453.90,31.50 L454.01,35.50 L454.22,39.50 L454.42,43.50 L454.66,47.50 L454.90,51.50 L455.05,55.50 L455.19,59.50 L455.33,63.50 L455.48,67.50 L455.62,71.50 L455.77,75.50 L455.91,79.50 L456.18,83.50 L456.68,87.50 L457.17,91.50 L457.60,95.00 L458.20,101.00 L459.50,103.20 L462.00,106.30 L463.50,107.60 L463.90,113.00 L464.75,115.00 L465.10,120.00 L467.30,121.90 L468.80,125.70 L470.10,131.00 L472.00,134.80 L474.20,139.80 L477.60,143.60 L480.00,147.00 L483.10,150.80 L485.60,155.20 L487.50,158.90 L488.10,160.60 L488.90,160.45 L491.30,160.00 L491.90,159.86 L494.40,159.30 L494.90,159.46 L495.00,159.49 L496.00,159.80 L497.60,160.30 L497.90,160.54 L499.80,162.07 L500.70,162.80 L500.90,163.39 L502.30,167.50 L503.90,171.35 L504.30,172.31 L505.00,174.00 L506.80,178.88 L506.90,179.15 L507.40,180.50 L509.70,183.80 L509.90,183.90 L509.90,183.90 L512.40,185.20 L512.90,185.69 L515.90,188.65 L518.70,191.41 L518.90,191.61 L519.30,192.00 L521.90,191.29 L523.10,190.96 L523.70,190.80 L524.90,190.74 L527.90,190.58 L529.40,190.50 L530.90,191.07 L533.90,192.21 L534.40,192.40 L536.90,195.03 L536.90,195.03 L538.20,196.40 L539.00,197.33 L539.90,198.37 L540.70,199.30 L542.00,200.75 L542.40,201.20 L542.90,201.22 L545.90,201.35 L548.90,201.48 L551.80,201.60 L551.90,201.60 L554.90,201.47 L557.90,201.34 L560.90,201.21 L561.20,201.20 L563.90,201.63 L566.90,202.10 L568.80,202.40 L569.90,203.23 L572.50,205.20 L572.90,204.89 L575.60,202.80 L575.90,202.82 L578.90,203.02 L581.90,203.21 L584.90,203.41 L586.30,203.50 L587.90,204.59 L588.80,205.20 L590.90,204.77 L593.20,204.30 L593.90,204.29 L596.90,204.26 L599.90,204.22 L602.90,204.19 L605.90,204.15 L608.90,204.11 L610.10,204.10 L611.90,204.96 L614.90,206.40 L615.10,206.50 L617.90,206.50 L620.20,206.50 L620.90,205.88 L622.00,204.90 L623.90,206.12 L624.50,206.50 L626.90,206.39 L629.90,206.25 L632.90,206.12 L633.30,206.10 L635.90,206.32 L638.90,206.57 L641.90,206.82 L644.90,207.07 L645.20,207.10 L647.90,207.02 L650.90,206.93 L653.90,206.83 L655.00,206.80 L656.90,206.75 L659.90,206.67 L662.90,206.60 L665.90,206.52 L668.90,206.44 L671.90,206.37 L674.90,206.29 L677.90,206.21 L678.40,206.20" stroke="#800080"/>
<path d="M60.5,214.7 L61.3,180 L61.9,130 L62.4,100" stroke="#7a1fb0" stroke-width="0.45"/>
<path d="M444.45,190.6 L445.0,150 L445.7,115" stroke="#7a1fb0" stroke-width="0.5"/>
</g>
<g stroke="#1a1a1a" stroke-width="1" fill="none">
<path d="M36.5,3.7 V214.7 M36.0,214.7 H300.0"/>
<path d="M32.90,214.70 H36.5"/>
<path d="M32.90,191.31 H36.5"/>
<path d="M32.90,167.92 H36.5"/>
<path d="M32.90,144.53 H36.5"/>
<path d="M32.90,121.14 H36.5"/>
<path d="M32.90,97.75 H36.5"/>
<path d="M32.90,74.36 H36.5"/>
<path d="M32.90,50.97 H36.5"/>
<path d="M32.90,27.58 H36.5"/>
<path d="M32.90,4.19 H36.5"/>
<path d="M36.55,214.7 V218.90"/>
<path d="M60.45,214.7 V218.90"/>
<path d="M84.36,214.7 V218.90"/>
<path d="M108.26,214.7 V218.90"/>
<path d="M132.17,214.7 V218.90"/>
<path d="M156.07,214.7 V218.90"/>
<path d="M179.98,214.7 V218.90"/>
<path d="M203.88,214.7 V218.90"/>
<path d="M227.79,214.7 V218.90"/>
<path d="M251.69,214.7 V218.90"/>
<path d="M275.60,214.7 V218.90"/>
<path d="M299.50,214.7 V218.90"/>
<path d="M420.6,9.5 V217.0 M420.1,217.0 H678.9"/>
<path d="M417.00,217.00 H420.6"/>
<path d="M417.00,187.43 H420.6"/>
<path d="M417.00,157.86 H420.6"/>
<path d="M417.00,128.29 H420.6"/>
<path d="M417.00,98.72 H420.6"/>
<path d="M417.00,69.15 H420.6"/>
<path d="M417.00,39.58 H420.6"/>
<path d="M417.00,10.01 H420.6"/>
<path d="M421.00,217.0 V221.20"/>
<path d="M444.40,217.0 V221.20"/>
<path d="M467.80,217.0 V221.20"/>
<path d="M491.20,217.0 V221.20"/>
<path d="M514.60,217.0 V221.20"/>
<path d="M538.00,217.0 V221.20"/>
<path d="M561.40,217.0 V221.20"/>
<path d="M584.80,217.0 V221.20"/>
<path d="M608.20,217.0 V221.20"/>
<path d="M631.60,217.0 V221.20"/>
<path d="M655.00,217.0 V221.20"/>
<path d="M678.40,217.0 V221.20"/>
</g>
<g font-family="Liberation Serif, serif" font-size="8.4" fill="#000" stroke="#000" stroke-width="0.12">
<text x="29.2" y="217.50" text-anchor="end">20</text>
<text x="29.2" y="194.11" text-anchor="end">25</text>
<text x="29.2" y="170.72" text-anchor="end">30</text>
<text x="29.2" y="147.33" text-anchor="end">35</text>
<text x="29.2" y="123.94" text-anchor="end">40</text>
<text x="29.2" y="100.55" text-anchor="end">45</text>
<text x="29.2" y="77.16" text-anchor="end">50</text>
<text x="29.2" y="53.77" text-anchor="end">55</text>
<text x="29.2" y="30.38" text-anchor="end">60</text>
<text x="29.2" y="6.99" text-anchor="end">65</text>
<text x="36.55" y="228.80" text-anchor="middle">-50</text>
<text x="60.45" y="228.80" text-anchor="middle">0</text>
<text x="84.36" y="228.80" text-anchor="middle">50</text>
<text x="108.26" y="228.80" text-anchor="middle">100</text>
<text x="132.17" y="228.80" text-anchor="middle">150</text>
<text x="156.07" y="228.80" text-anchor="middle">200</text>
<text x="179.98" y="228.80" text-anchor="middle">250</text>
<text x="203.88" y="228.80" text-anchor="middle">300</text>
<text x="227.79" y="228.80" text-anchor="middle">350</text>
<text x="251.69" y="228.80" text-anchor="middle">400</text>
<text x="275.60" y="228.80" text-anchor="middle">450</text>
<text x="299.50" y="228.80" text-anchor="middle">500</text>
<text x="413.6" y="219.80" text-anchor="end">0</text>
<text x="413.6" y="190.23" text-anchor="end">100</text>
<text x="413.6" y="160.66" text-anchor="end">200</text>
<text x="413.6" y="131.09" text-anchor="end">300</text>
<text x="413.6" y="101.52" text-anchor="end">400</text>
<text x="413.6" y="71.95" text-anchor="end">500</text>
<text x="413.6" y="42.38" text-anchor="end">600</text>
<text x="413.6" y="12.81" text-anchor="end">700</text>
<text x="421.00" y="230.90" text-anchor="middle">-50</text>
<text x="444.40" y="230.90" text-anchor="middle">0</text>
<text x="467.80" y="230.90" text-anchor="middle">50</text>
<text x="491.20" y="230.90" text-anchor="middle">100</text>
<text x="514.60" y="230.90" text-anchor="middle">150</text>
<text x="538.00" y="230.90" text-anchor="middle">200</text>
<text x="561.40" y="230.90" text-anchor="middle">250</text>
<text x="584.80" y="230.90" text-anchor="middle">300</text>
<text x="608.20" y="230.90" text-anchor="middle">350</text>
<text x="631.60" y="230.90" text-anchor="middle">400</text>
<text x="655.00" y="230.90" text-anchor="middle">450</text>
<text x="678.40" y="230.90" text-anchor="middle">500</text>
</g>
<g font-family="Liberation Serif, serif" fill="#000" stroke="#000" stroke-width="0.15">
<text x="58.1" y="249.2" font-size="12.8">The distance from the goaf boundary (m)</text>
<text x="441.2" y="250.1" font-size="12.78">The distance from the goaf boundary (m)</text>
<text x="102.1" y="290.8" font-size="15.58">(a) Vertical stress</text>
<text x="499.6" y="290.8" font-size="15.4">(b) Elastic energy</text>
<text transform="translate(9.0,129.4) rotate(-90)" font-size="10.9">SZZ (MPa)</text>
<text transform="translate(385.9,190.0) rotate(-90)" font-size="12.8">Elastic strain energy density(KJ/m<tspan font-size="6.6" dy="-4.7">3</tspan><tspan dy="4.7">)</tspan></text>
</g>
<rect x="225.4" y="6.3" width="64.6" height="109.4" fill="#fff" stroke="#7a7a7a" stroke-width="0.9"/>
<path d="M227.2,14.20 H251.4" stroke="#000000" stroke-width="0.42" fill="none"/>
<text x="254.9" y="17.40" font-family="Liberation Serif, serif" font-size="10.8" fill="#000" stroke="#000" stroke-width="0.15">balance</text>
<path d="M227.2,27.67 H251.4" stroke="#ff0000" stroke-width="0.42" fill="none"/>
<text x="254.9" y="30.87" font-family="Liberation Serif, serif" font-size="10.8" fill="#000" stroke="#000" stroke-width="0.15">150m</text>
<path d="M227.2,41.14 H251.4" stroke="#0000ff" stroke-width="0.42" fill="none"/>
<text x="254.9" y="44.34" font-family="Liberation Serif, serif" font-size="10.8" fill="#000" stroke="#000" stroke-width="0.15">175m</text>
<path d="M227.2,54.61 H251.4" stroke="#ff00ff" stroke-width="0.42" fill="none"/>
<text x="254.9" y="57.81" font-family="Liberation Serif, serif" font-size="10.8" fill="#000" stroke="#000" stroke-width="0.15">200m</text>
<path d="M227.2,68.08 H251.4" stroke="#008000" stroke-width="0.42" fill="none"/>
<text x="254.9" y="71.28" font-family="Liberation Serif, serif" font-size="10.8" fill="#000" stroke="#000" stroke-width="0.15">225m</text>
<path d="M227.2,81.55 H251.4" stroke="#000080" stroke-width="0.42" fill="none"/>
<text x="254.9" y="84.75" font-family="Liberation Serif, serif" font-size="10.8" fill="#000" stroke="#000" stroke-width="0.15">250m</text>
<path d="M227.2,95.02 H251.4" stroke="#8000ff" stroke-width="0.42" fill="none"/>
<text x="254.9" y="98.22" font-family="Liberation Serif, serif" font-size="10.8" fill="#000" stroke="#000" stroke-width="0.15">275m</text>
<path d="M227.2,108.49 H251.4" stroke="#800080" stroke-width="0.42" fill="none"/>
<text x="254.9" y="111.69" font-family="Liberation Serif, serif" font-size="10.8" fill="#000" stroke="#000" stroke-width="0.15">300m</text>
<rect x="613.4" y="13.2" width="62.5" height="107.5" fill="#fff" stroke="#7a7a7a" stroke-width="0.9"/>
<path d="M615.0,20.70 H638.3" stroke="#000000" stroke-width="0.42" fill="none"/>
<text x="641.7" y="24.10" font-family="Liberation Serif, serif" font-size="10.8" fill="#000" stroke="#000" stroke-width="0.15">balance</text>
<path d="M615.0,33.96 H638.3" stroke="#ff0000" stroke-width="0.42" fill="none"/>
<text x="641.7" y="37.36" font-family="Liberation Serif, serif" font-size="10.8" fill="#000" stroke="#000" stroke-width="0.15">150m</text>
<path d="M615.0,47.22 H638.3" stroke="#0000ff" stroke-width="0.42" fill="none"/>
<text x="641.7" y="50.62" font-family="Liberation Serif, serif" font-size="10.8" fill="#000" stroke="#000" stroke-width="0.15">175m</text>
<path d="M615.0,60.48 H638.3" stroke="#ff00ff" stroke-width="0.42" fill="none"/>
<text x="641.7" y="63.88" font-family="Liberation Serif, serif" font-size="10.8" fill="#000" stroke="#000" stroke-width="0.15">200m</text>
<path d="M615.0,73.74 H638.3" stroke="#008000" stroke-width="0.42" fill="none"/>
<text x="641.7" y="77.14" font-family="Liberation Serif, serif" font-size="10.8" fill="#000" stroke="#000" stroke-width="0.15">225m</text>
<path d="M615.0,87.00 H638.3" stroke="#000080" stroke-width="0.42" fill="none"/>
<text x="641.7" y="90.40" font-family="Liberation Serif, serif" font-size="10.8" fill="#000" stroke="#000" stroke-width="0.15">250m</text>
<path d="M615.0,100.26 H638.3" stroke="#8000ff" stroke-width="0.42" fill="none"/>
<text x="641.7" y="103.66" font-family="Liberation Serif, serif" font-size="10.8" fill="#000" stroke="#000" stroke-width="0.15">275m</text>
<path d="M615.0,113.52 H638.3" stroke="#800080" stroke-width="0.42" fill="none"/>
<text x="641.7" y="116.92" font-family="Liberation Serif, serif" font-size="10.8" fill="#000" stroke="#000" stroke-width="0.15">300m</text>
</svg>
</body></html>
